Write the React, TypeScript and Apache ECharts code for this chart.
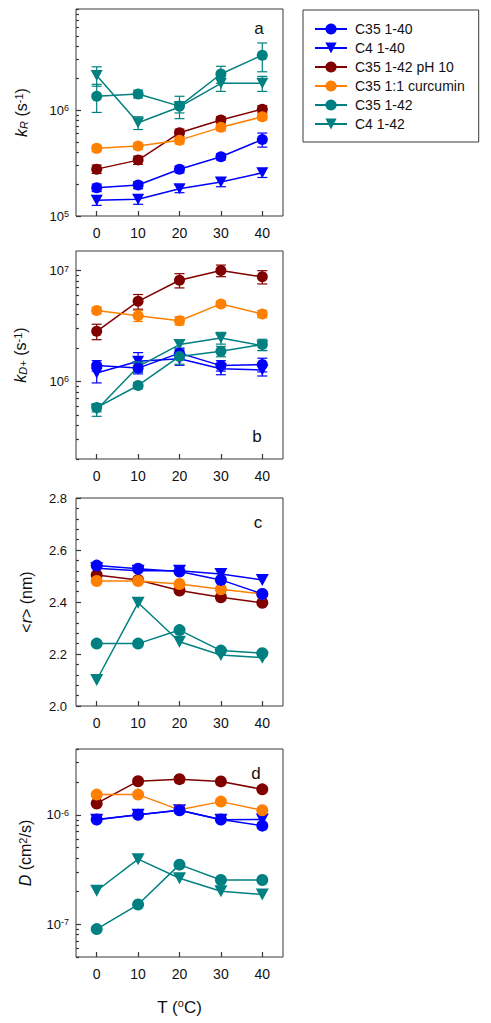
import React, { useEffect, useRef } from 'react';
import * as echarts from 'echarts';

// ---------- data ----------
const temps = ['0', '10', '20', '30', '40'];
const seriesNames = ['C35 1-40', 'C4 1-40', 'C35 1-42 pH 10', 'C35 1:1 curcumin', 'C35 1-42', 'C4 1-42'];
const seriesColors = ['#0000ff', '#0000ff', '#800000', '#ff8000', '#008080', '#008080'];
const seriesShapes = ['circle', 'triangleDown', 'circle', 'circle', 'circle', 'triangleDown'];

// panel a : kR (s^-1)
const kR_C35_140 = [1.85e5, 1.96e5, 2.76e5, 3.63e5, 5.27e5];
const kR_C4_140 = [1.41e5, 1.44e5, 1.81e5, 2.09e5, 2.56e5];
const kR_C35_142_pH10 = [2.77e5, 3.37e5, 6.1e5, 8.05e5, 1.02e6];
const kR_C35_curcumin = [4.35e5, 4.57e5, 5.2e5, 6.87e5, 8.65e5];
const kR_C35_142 = [1.35e6, 1.42e6, 1.09e6, 2.19e6, 3.3e6];
const kR_C4_142 = [2.12e6, 7.6e5, 1.07e6, 1.79e6, 1.79e6];
const kRErr_C35_140 = [1.5e4, 1.5e4, 2e4, 2.5e4, 8e4];
const kRErr_C4_140 = [1.5e4, 1.5e4, 1.5e4, 2e4, 2.5e4];
const kRErr_C35_142_pH10 = [2.5e4, 3e4, 5e4, 6e4, 8e4];
const kRErr_C35_curcumin = [3e4, 3e4, 4e4, 5e4, 6e4];
const kRErr_C35_142 = [4e5, 1.2e5, 2.6e5, 4e5, 1.0e6];
const kRErr_C4_142 = [4.4e5, 1.05e5, 1.3e5, 2.9e5, 2.9e5];

// panel b : kD+ (s^-1)
const kD_C35_140 = [1.39e6, 1.32e6, 1.8e6, 1.39e6, 1.42e6];
const kD_C4_140 = [1.19e6, 1.52e6, 1.6e6, 1.3e6, 1.27e6];
const kD_C35_142_pH10 = [2.83e6, 5.28e6, 8.17e6, 1.0e7, 8.77e6];
const kD_C35_curcumin = [4.37e6, 3.92e6, 3.53e6, 5.0e6, 4.06e6];
const kD_C35_142 = [5.82e5, 9.2e5, 1.68e6, 1.87e6, 2.15e6];
const kD_C4_142 = [5.55e5, 1.36e6, 2.15e6, 2.47e6, 2.1e6];
const kDErr_C35_140 = [1.5e5, 1.5e5, 2e5, 1.5e5, 2e5];
const kDErr_C4_140 = [2.2e5, 3e5, 2e5, 1.5e5, 1.5e5];
const kDErr_C35_142_pH10 = [4.5e5, 8e5, 1.2e6, 1.2e6, 1.2e6];
const kDErr_C35_curcumin = [3e5, 4.5e5, 3e5, 3e5, 3e5];
const kDErr_C35_142 = [5e4, 6e4, 2.5e5, 2e5, 2.5e5];
const kDErr_C4_142 = [7e4, 1.5e5, 2e5, 3e5, 2e5];

// panel c : <r> (nm)
const r_C35_140 = [2.54, 2.528, 2.517, 2.485, 2.431];
const r_C4_140 = [2.53, 2.52, 2.52, 2.508, 2.485];
const r_C35_142_pH10 = [2.504, 2.485, 2.444, 2.418, 2.397];
const r_C35_curcumin = [2.481, 2.481, 2.469, 2.449, 2.431];
const r_C35_142 = [2.24, 2.24, 2.292, 2.213, 2.203];
const r_C4_142 = [2.1, 2.397, 2.247, 2.196, 2.186];

// panel d : D (cm^2/s)
const D_C35_140 = [9.05e-7, 1.0e-6, 1.1e-6, 9.05e-7, 7.96e-7];
const D_C4_140 = [9.0e-7, 1.0e-6, 1.1e-6, 9.0e-7, 9.05e-7];
const D_C35_142_pH10 = [1.27e-6, 2.03e-6, 2.12e-6, 2.02e-6, 1.71e-6];
const D_C35_curcumin = [1.53e-6, 1.53e-6, 1.11e-6, 1.32e-6, 1.1e-6];
const D_C35_142 = [9.0e-8, 1.51e-7, 3.5e-7, 2.53e-7, 2.53e-7];
const D_C4_142 = [2.02e-7, 3.93e-7, 2.63e-7, 2.0e-7, 1.87e-7];

// axis ranges / ticks
const kRRange = [1e5, 9e6];
const kDRange = [2e5, 1.5e7];
const rRange = [2.0, 2.8];
const DRange = [5e-8, 4e-6];
const kRMajor = [1e5, 1e6];
const kDMajor = [1e6, 1e7];
const DMajor = [1e-7, 1e-6];
const panelLetters = ['a', 'b', 'c', 'd'];

// ---------- helpers ----------
const FONT = 'Liberation Sans, Arial, Helvetica, sans-serif';
const AXIS_COLOR = '#383838';
const TEXT_COLOR = '#111111';
const lg = (v: number) => Math.log10(v);

function minorTicks(range: number[]) {
  const out: number[] = [];
  const d0 = Math.floor(lg(range[0]));
  const d1 = Math.ceil(lg(range[1]));
  for (let d = d0; d <= d1; d++) {
    for (let m = 2; m <= 9; m++) {
      const v = m * Math.pow(10, d);
      if (v >= range[0] * 0.999 && v <= range[1] * 1.001) out.push(lg(v));
    }
  }
  return out;
}

const titleRich = {
  n: { fontSize: 16, lineHeight: 16, padding: [4, 0, 4, 0], color: TEXT_COLOR, fontFamily: FONT },
  i: { fontSize: 16, lineHeight: 16, padding: [4, 0, 4, 0], fontStyle: 'italic', color: TEXT_COLOR, fontFamily: FONT },
  sub: { fontSize: 11, lineHeight: 11, verticalAlign: 'bottom', fontStyle: 'italic', color: TEXT_COLOR, fontFamily: FONT },
  sup: { fontSize: 11, lineHeight: 11, verticalAlign: 'top', color: TEXT_COLOR, fontFamily: FONT },
};

const powRich = {
  b: { fontSize: 13, lineHeight: 13, padding: [3, 0, 3, 0], color: TEXT_COLOR, fontFamily: FONT },
  e: { fontSize: 9, lineHeight: 9, verticalAlign: 'top', color: TEXT_COLOR, fontFamily: FONT },
};
const powFormatter = (v: number) => `{b|10}{e|${Math.round(v)}}`;

const grids = [
  { left: 76, top: 9, width: 207, height: 207 },
  { left: 76, top: 251, width: 207, height: 208 },
  { left: 76, top: 498, width: 207, height: 208 },
  { left: 76, top: 749, width: 207, height: 208 },
];
const letterPos = [
  [259, 28],
  [257, 436],
  [258, 522],
  [256, 773],
];

function logYAxes(gridIndex: number, range: number[], major: number[], name: string, nameGap: number) {
  const min = lg(range[0]);
  const max = lg(range[1]);
  const majorLog = major.map(lg);
  return [
    {
      type: 'value',
      gridIndex,
      position: 'left',
      min,
      max,
      name,
      nameLocation: 'middle',
      nameRotate: 90,
      nameGap,
      nameTextStyle: { rich: titleRich, fontFamily: FONT },
      axisLine: { show: false },
      splitLine: { show: false },
      axisTick: { show: true, inside: true, length: 5, customValues: majorLog, lineStyle: { color: AXIS_COLOR, width: 1.2 } },
      axisLabel: { show: true, customValues: majorLog, formatter: powFormatter, rich: powRich, margin: 7 },
    },
    {
      type: 'value',
      gridIndex,
      position: 'left',
      offset: 0,
      min,
      max,
      axisLine: { show: false },
      splitLine: { show: false },
      axisLabel: { show: false },
      axisTick: { show: true, inside: true, length: 3, customValues: minorTicks(range), lineStyle: { color: AXIS_COLOR, width: 1.2 } },
    },
  ];
}

function errorSeries(name: string, color: string, values: number[], errs: number[], xIdx: number, yIdx: number) {
  return {
    type: 'custom',
    name: name + ' error',
    xAxisIndex: xIdx,
    yAxisIndex: yIdx,
    z: 2,
    silent: true,
    data: values.map((v, i) => [i, lg(v - errs[i]), lg(v + errs[i])]),
    encode: { x: 0, y: [1, 2] },
    renderItem: (_params: any, api: any) => {
      const lo = api.coord([api.value(0), api.value(1)]);
      const hi = api.coord([api.value(0), api.value(2)]);
      const w = 5;
      const st = { stroke: color, lineWidth: 1.2, fill: 'none' };
      return {
        type: 'group',
        children: [
          { type: 'line', shape: { x1: lo[0], y1: lo[1], x2: hi[0], y2: hi[1] }, style: st },
          { type: 'line', shape: { x1: lo[0] - w, y1: lo[1], x2: lo[0] + w, y2: lo[1] }, style: st },
          { type: 'line', shape: { x1: hi[0] - w, y1: hi[1], x2: hi[0] + w, y2: hi[1] }, style: st },
        ],
      };
    },
  };
}

function lineSeries(idx: number, values: number[], xIdx: number, yIdx: number, isLog: boolean, size: number) {
  const tri = seriesShapes[idx] === 'triangleDown';
  return {
    type: 'line',
    name: seriesNames[idx],
    xAxisIndex: xIdx,
    yAxisIndex: yIdx,
    data: values.map((v) => (isLog ? lg(v) : v)),
    symbol: tri ? 'triangle' : 'circle',
    symbolRotate: tri ? 180 : 0,
    symbolSize: tri ? [size + 1, size] : size,
    showSymbol: true,
    z: 3,
    itemStyle: { color: seriesColors[idx], borderWidth: 0 },
    lineStyle: { color: seriesColors[idx], width: 1.5 },
    emphasis: { disabled: true },
  };
}

// drawing order (triangles underneath circles)
const drawOrder = [1, 5, 2, 3, 0, 4];

const panelA = [kR_C35_140, kR_C4_140, kR_C35_142_pH10, kR_C35_curcumin, kR_C35_142, kR_C4_142];
const panelAErr = [kRErr_C35_140, kRErr_C4_140, kRErr_C35_142_pH10, kRErr_C35_curcumin, kRErr_C35_142, kRErr_C4_142];
const panelB = [kD_C35_140, kD_C4_140, kD_C35_142_pH10, kD_C35_curcumin, kD_C35_142, kD_C4_142];
const panelBErr = [kDErr_C35_140, kDErr_C4_140, kDErr_C35_142_pH10, kDErr_C35_curcumin, kDErr_C35_142, kDErr_C4_142];
const panelC = [r_C35_140, r_C4_140, r_C35_142_pH10, r_C35_curcumin, r_C35_142, r_C4_142];
const panelD = [D_C35_140, D_C4_140, D_C35_142_pH10, D_C35_curcumin, D_C35_142, D_C4_142];

function buildOption() {
  const xAxes = grids.map((_g, gi) => ({
    type: 'category',
    gridIndex: gi,
    data: temps,
    boundaryGap: true,
    axisLine: { show: false },
    axisTick: { show: true, inside: true, length: 5, alignWithLabel: true, lineStyle: { color: AXIS_COLOR, width: 1.2 } },
    axisLabel: { fontSize: 14, color: TEXT_COLOR, margin: 10, fontFamily: FONT },
    splitLine: { show: false },
    ...(gi === 3
      ? {
          name: '{n|T (}{sup|o}{n|C)}',
          nameLocation: 'middle',
          nameGap: 40,
          nameTextStyle: {
            rich: {
              n: { fontSize: 17, lineHeight: 17, padding: [4, 0, 0, 0], color: TEXT_COLOR, fontFamily: FONT },
              sup: { fontSize: 11, lineHeight: 11, verticalAlign: 'top', color: TEXT_COLOR, fontFamily: FONT },
            },
          },
        }
      : {}),
  }));

  const yAxes: any[] = [
    ...logYAxes(0, kRRange, kRMajor, '{i|k}{sub|R}{n| (s}{sup|-1}{n|)}', 47), // 0,1
    ...logYAxes(1, kDRange, kDMajor, '{i|k}{sub|D+}{n| (s}{sup|-1}{n|)}', 48), // 2,3
    {
      type: 'value',
      gridIndex: 2,
      position: 'left',
      min: rRange[0],
      max: rRange[1],
      interval: 0.2,
      name: '{n|<}{i|r}{n|> (nm)}',
      nameLocation: 'middle',
      nameRotate: 90,
      nameGap: 42,
      nameTextStyle: { rich: titleRich, fontFamily: FONT },
      axisLine: { show: false },
      splitLine: { show: false },
      axisTick: { show: true, inside: true, length: 5, lineStyle: { color: AXIS_COLOR, width: 1.2 } },
      minorTick: { show: true, splitNumber: 5, length: 3, lineStyle: { color: AXIS_COLOR, width: 1.2 } },
      minorSplitLine: { show: false },
      axisLabel: { fontSize: 13, color: TEXT_COLOR, margin: 9, fontFamily: FONT, formatter: (v: number) => v.toFixed(1) },
    }, // 4
    ...logYAxes(3, DRange, DMajor, '{i|D}{n| (cm}{sup|2}{n|/s)}', 43), // 5,6
  ];
  const yMain = [0, 2, 4, 5];

  const series: any[] = [];
  const panels = [
    { vals: panelA, errs: panelAErr, log: true, size: 11 },
    { vals: panelB, errs: panelBErr, log: true, size: 11 },
    { vals: panelC, errs: null, log: false, size: 12 },
    { vals: panelD, errs: null, log: true, size: 12 },
  ];
  panels.forEach((p, pi) => {
    drawOrder.forEach((si) => {
      if (p.errs) series.push(errorSeries(seriesNames[si], seriesColors[si], p.vals[si], p.errs[si], pi, yMain[pi]));
      series.push(lineSeries(si, p.vals[si], pi, yMain[pi], p.log, p.size));
    });
  });

  return {
    animation: false,
    textStyle: { fontFamily: FONT },
    grid: grids.map((g) => ({
      ...g,
      show: true,
      borderColor: AXIS_COLOR,
      borderWidth: 1,
      backgroundColor: 'transparent',
      containLabel: false,
    })),
    xAxis: xAxes,
    yAxis: yAxes,
    legend: {
      data: seriesNames,
      orient: 'vertical',
      left: 303,
      top: 10,
      padding: [12, 14, 11, 11],
      itemWidth: 32,
      itemHeight: 14,
      itemGap: 5,
      itemStyle: { borderWidth: 0 },
      selectedMode: false,
      borderColor: AXIS_COLOR,
      borderWidth: 1,
      borderRadius: 0,
      textStyle: { fontSize: 14, color: TEXT_COLOR, fontFamily: FONT, padding: [0, 0, 0, 3] },
    },
    graphic: panelLetters.map((l, i) => ({
      type: 'text',
      x: letterPos[i][0],
      y: letterPos[i][1],
      silent: true,
      style: {
        text: l,
        fontSize: 17,
        fontFamily: FONT,
        fill: TEXT_COLOR,
        textAlign: 'center',
        textVerticalAlign: 'middle',
      },
    })),
    series,
  };
}

export default function App() {
  const ref = useRef<HTMLDivElement>(null);
  useEffect(() => {
    if (!ref.current) return;
    const chart = echarts.init(ref.current, undefined, { renderer: 'svg' });
    chart.setOption(buildOption() as any);
    return () => chart.dispose();
  }, []);
  return (
    <div
      ref={ref}
      style={{ position: 'absolute', left: 0, top: 0, width: 491, height: 1023, background: '#ffffff' }}
    />
  );
}
